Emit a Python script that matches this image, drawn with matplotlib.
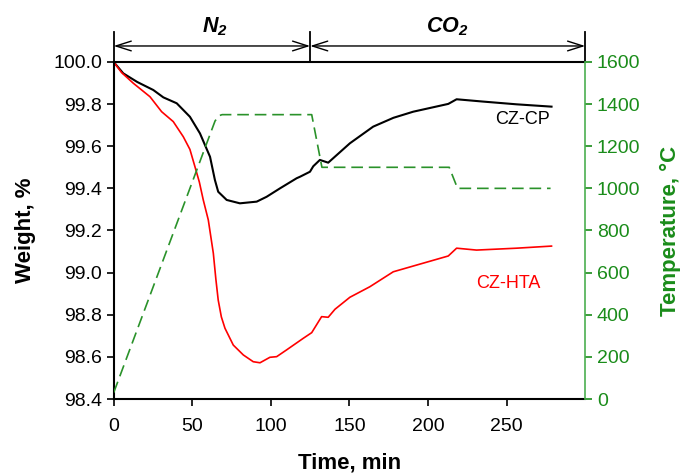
import matplotlib.pyplot as plt
from matplotlib.lines import Line2D

plt.rcParams['font.family'] = ['Liberation Sans', 'DejaVu Sans']
plt.rcParams['mathtext.fontset'] = 'custom'
plt.rcParams['mathtext.it'] = 'Liberation Sans:italic:bold'
plt.rcParams['mathtext.rm'] = 'Liberation Sans:italic:bold'

# weight curves (time in min, weight in %)
t_cp = [0, 6.1, 15, 25.2, 31.6, 40.1, 48.5, 54.9, 61.3, 64.4, 66.5, 71.9, 80.3, 91, 97.3,
        105.8, 116.4, 118.5, 124.9, 127, 131.2, 136.5, 150.3, 165.1, 178, 190.6, 212.9,
        218.2, 235.1, 256.4, 278.6]
w_cp = [100.0, 99.946, 99.905, 99.867, 99.832, 99.804, 99.740, 99.661, 99.550, 99.440,
        99.384, 99.345, 99.329, 99.337, 99.360, 99.400, 99.448, 99.455, 99.479, 99.505,
        99.535, 99.522, 99.614, 99.693, 99.735, 99.764, 99.801, 99.823, 99.812, 99.799,
        99.788]

t_hta = [0, 5, 12.5, 23.1, 30.5, 37.9, 44.3, 48.5, 51.7, 54.5, 57, 60.2, 63.4, 65,
         66.5, 68.5, 70.8, 76.1, 82.5, 88.8, 93.1, 99.4, 103.7, 110, 120.6, 126, 132.3,
         136.5, 140.8, 150.3, 163, 177.9, 192.8, 212.9, 218.2, 230.9, 256.4, 278.6]
w_hta = [100.0, 99.95, 99.899, 99.835, 99.764, 99.717, 99.645, 99.585, 99.503, 99.43,
         99.345, 99.250, 99.092, 98.97, 98.870, 98.79, 98.736, 98.656, 98.609, 98.577,
         98.572, 98.598, 98.601, 98.633, 98.688, 98.715, 98.791, 98.788, 98.826, 98.883,
         98.933, 99.004, 99.036, 99.079, 99.116, 99.107, 99.116, 99.126]

# temperature programme
t_temp = [0, 64.5, 67, 69, 126, 132.5, 213.5, 218.8, 278]
temp = [30, 1320, 1345, 1350, 1350, 1100, 1100, 1000, 1000]

# gas atmosphere zones
zone_edges = [0, 125, 300]
zone_names = ['$N_2$', '$CO_2$']

green = '#1a8c1a'

fig = plt.figure(figsize=(6.82, 4.75), dpi=100)
ax = fig.add_axes([0.1667, 0.16, 0.6913, 0.7095])
ax2 = ax.twinx()

ax.plot(t_cp, w_cp, color='black', lw=1.5)
ax.plot(t_hta, w_hta, color='red', lw=1.2)
ax2.plot(t_temp, temp, color='#2a922a', lw=1.2, dashes=(7, 3.5))

ax.set_xlim(0, 300)
ax.set_ylim(98.4, 100.0)
ax2.set_ylim(0, 1600)
ax.set_xticks([0, 50, 100, 150, 200, 250])
ax.set_yticks([98.4 + 0.2 * i for i in range(9)])
ax.set_yticklabels([f'{98.4 + 0.2 * i:.1f}' for i in range(9)])
ax2.set_yticks(range(0, 1601, 200))

ax.tick_params(labelsize=14, width=1.2, length=5, direction='out')
ax2.tick_params(labelsize=14, width=1.2, length=5, direction='out',
                colors=green)
ax.tick_params(axis='x', pad=9)

for s in ['left', 'bottom', 'top']:
    ax.spines[s].set_linewidth(1.5)
ax.spines['right'].set_visible(False)
ax2.spines['right'].set_color('#4caf50')
ax2.spines['right'].set_linewidth(1.2)
for s in ['left', 'bottom', 'top']:
    ax2.spines[s].set_visible(False)

ax.set_xlabel('Time, min', fontsize=16, fontweight='bold', labelpad=12)
ax.set_ylabel('Weight, %', fontsize=16, fontweight='bold', labelpad=12)
ax2.set_ylabel('Temperature, °C', fontsize=16, fontweight='bold',
               color=green, labelpad=14)

ax.text(260, 99.725, 'CZ-CP', fontsize=13, ha='center', va='center')
ax.text(251, 98.946, 'CZ-HTA', fontsize=13, ha='center', va='center',
        color='red')

# atmosphere annotation above the plot
tr = ax.get_xaxis_transform()
for x in zone_edges:
    ax.add_line(Line2D([x, x], [1.0, 1.089], transform=tr, color='black',
                       lw=1.3, clip_on=False))
label_x = [64.5, 212]
for i, name in enumerate(zone_names):
    a, b = zone_edges[i], zone_edges[i + 1]
    ax.annotate('', xy=(b, 1.0475), xytext=(a, 1.0475), xycoords=tr, textcoords=tr,
                arrowprops=dict(arrowstyle='<->,head_length=1.1,head_width=0.35',
                                color='black', lw=1.0, shrinkA=0, shrinkB=0),
                annotation_clip=False)
    ax.text(label_x[i], 1.104, name, transform=tr, ha='center', va='center',
            fontsize=15.5)

fig.savefig('out.png', dpi=100)
